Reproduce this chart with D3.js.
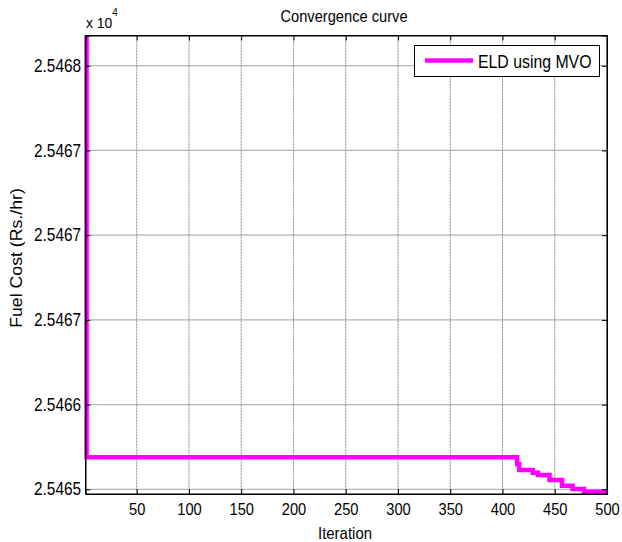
<!DOCTYPE html>
<html>
<head>
<meta charset="utf-8">
<script src="https://cdn.jsdelivr.net/npm/d3@7"></script>
<style>
  body { margin: 0; background: #fff; }
  text { font-family: "Liberation Sans", Arial, sans-serif; fill: #000; }
</style>
</head>
<body>
<svg id="chart" width="622" height="542"></svg>
<script>
// best fuel cost found, only at the iterations where it changed (step curve)
const iters = [1, 2, 414, 416, 429, 434, 445, 457, 467, 478, 500];
const cost = [25468.4, 25465.227, 25465.18, 25465.137, 25465.118, 25465.101,
              25465.066, 25465.025, 25465.002, 25464.983, 25464.983];

const xTicks = [50, 100, 150, 200, 250, 300, 350, 400, 450, 500];
const yTicks = [25465.0, 25465.6, 25466.2, 25466.8, 25467.4, 25468.0];
const yTickLabels = ['2.5465', '2.5466', '2.5467', '2.5467', '2.5467', '2.5468'];

const svg = d3.select('#chart');
const plotL = 85.5, plotR = 607, plotT = 35.5, plotB = 494;

const x = d3.scaleLinear().domain([1, 500]).range([plotL, plotR]);
const y = d3.scaleLinear().domain([25464.967, 25468.214]).range([plotB, plotT]);

// grid
svg.append('g')
    .selectAll('line')
    .data(yTicks)
    .enter()
    .append('line')
    .attr('x1', plotL).attr('x2', plotR)
    .attr('y1', d => y(d)).attr('y2', d => y(d))
    .attr('stroke', '#b4b4b4')
    .attr('stroke-width', 1.2);

svg.append('g')
    .selectAll('line')
    .data(xTicks)
    .enter()
    .append('line')
    .attr('x1', d => x(d)).attr('x2', d => x(d))
    .attr('y1', plotT).attr('y2', plotB)
    .attr('stroke', '#8a8a8a')
    .attr('stroke-width', 1)
    .attr('stroke-dasharray', '2,1');

// curve
svg.append('clipPath').attr('id', 'clip')
    .append('rect')
    .attr('x', plotL - 3).attr('y', plotT)
    .attr('width', plotR - plotL + 6).attr('height', plotB - plotT + 3);

const pts = iters.map((d, i) => [d, cost[i]]);
const line = d3.line()
    .x(d => x(d[0]))
    .y(d => y(d[1]))
    .curve(d3.curveStepAfter);

svg.append('path')
    .attr('clip-path', 'url(#clip)')
    .attr('d', line(pts))
    .attr('fill', 'none')
    .attr('stroke', '#ff00ff')
    .attr('stroke-width', 4.5);

// axes, ticks pointing inward on all four sides
function styleText(sel, size, sx) {
    sel.selectAll('text')
        .style('font-size', size + 'px')
        .attr('transform', 'scale(' + sx + ',1)');
}

const gx = svg.append('g')
    .attr('transform', 'translate(0,' + plotB + ')')
    .call(d3.axisBottom(x).tickValues(xTicks).tickSize(-5).tickPadding(9));
styleText(gx, 16.3, 0.9);

svg.append('g')
    .attr('transform', 'translate(0,' + plotT + ')')
    .call(d3.axisTop(x).tickValues(xTicks).tickSize(-5).tickFormat(''));

const gy = svg.append('g')
    .attr('transform', 'translate(' + plotL + ',0)')
    .call(d3.axisLeft(y).tickValues(yTicks).tickSize(-5).tickPadding(5)
        .tickFormat((d, i) => yTickLabels[i]));
styleText(gy, 17.5, 0.88);

svg.append('g')
    .attr('transform', 'translate(' + plotR + ',0)')
    .call(d3.axisRight(y).tickValues(yTicks).tickSize(-5).tickFormat(''));

svg.selectAll('.domain').attr('stroke', '#000');
svg.selectAll('.tick line').attr('stroke', '#000');

// box
svg.append('rect')
    .attr('x', plotL).attr('y', plotT)
    .attr('width', plotR - plotL).attr('height', plotB - plotT)
    .attr('fill', 'none')
    .attr('stroke', '#000');

// texts
svg.append('text')
    .attr('transform', 'translate(344,22) scale(0.9,1)')
    .attr('text-anchor', 'middle')
    .style('font-size', '16.3px')
    .text('Convergence curve');

svg.append('text')
    .attr('transform', 'translate(345,539) scale(0.89,1)')
    .attr('text-anchor', 'middle')
    .style('font-size', '16.8px')
    .text('Iteration');

svg.append('text')
    .attr('transform', 'translate(21.5,258) rotate(-90) scale(1,0.9)')
    .attr('text-anchor', 'middle')
    .style('font-size', '17.7px')
    .text('Fuel Cost (Rs./hr)');

const mult = svg.append('text')
    .attr('transform', 'translate(86,28) scale(0.9,1)')
    .style('font-size', '15.5px');
mult.append('tspan').text('x 10');
mult.append('tspan').attr('dy', -12).style('font-size', '11px').text('4');

// legend
const lg = svg.append('g');
lg.append('rect')
    .attr('x', 414.5).attr('y', 45.5)
    .attr('width', 185).attr('height', 31)
    .attr('fill', '#fff')
    .attr('stroke', '#000');
lg.append('line')
    .attr('x1', 425).attr('x2', 473)
    .attr('y1', 60.5).attr('y2', 60.5)
    .attr('stroke', '#ff00ff')
    .attr('stroke-width', 4.5);
lg.append('text')
    .attr('transform', 'translate(478,68) scale(0.88,1)')
    .style('font-size', '18px')
    .text('ELD using MVO');
</script>
</body>
</html>
